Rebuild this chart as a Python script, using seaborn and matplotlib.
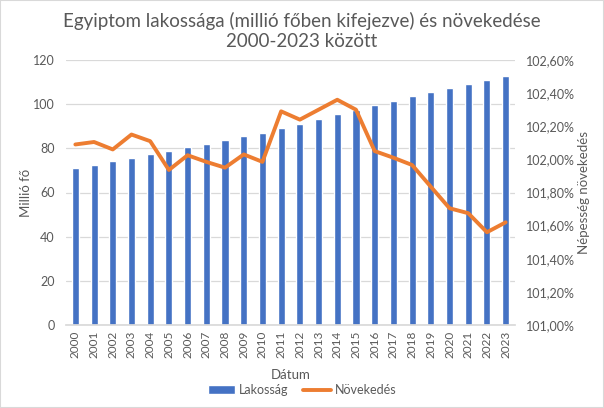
import matplotlib
matplotlib.use("Agg")
import matplotlib.pyplot as plt
import matplotlib.ticker as mticker
from matplotlib.patches import Patch
from matplotlib.lines import Line2D
import seaborn as sns
import pandas as pd

years = [str(y) for y in range(2000, 2024)]
lakossag = [71.1, 72.5, 74.3, 75.6, 77.4, 78.8, 80.6, 82.0, 83.8, 85.6, 87.0, 89.2,
            91.0, 93.3, 95.6, 97.4, 99.6, 101.4, 103.7, 105.5, 107.3, 109.1, 111.0, 112.8]
novekedes = [102.09, 102.105, 102.06, 102.15, 102.11, 101.936, 102.025, 101.985, 101.95,
             102.03, 101.985, 102.29, 102.24, 102.30, 102.36, 102.30, 102.05, 102.01,
             101.966, 101.835, 101.705, 101.675, 101.56, 101.62]

title = "Egyiptom lakossága (millió főben kifejezve) és növekedése\n2000-2023 között"

sns.set_theme(style="white")
plt.rcParams['font.family'] = ['Lato', 'DejaVu Sans']

df = pd.DataFrame({"Dátum": years, "Lakosság": lakossag, "Növekedés": novekedes})
df["pos"] = range(len(df))

blue = "#4472C4"
orange = "#ED7D31"
gray = "#595959"

fig = plt.figure(figsize=(6.04, 4.08), dpi=100)
ax = fig.add_axes([66/604, 1-325/408, (515-66)/604, (325-60)/408])

sns.barplot(data=df, x="Dátum", y="Lakosság", color=blue, width=0.38, ax=ax, saturation=1)
ax.set_ylim(0, 120)
ax.set_yticks(range(0, 121, 20))
ax.yaxis.grid(True, color="#D9D9D9", linewidth=0.9)
ax.set_axisbelow(True)
for s in ["top", "right", "left"]:
    ax.spines[s].set_visible(False)
ax.spines["bottom"].set_color("#D9D9D9")
ax.tick_params(axis="x", labelrotation=90, labelsize=8.5, colors=gray, length=0, pad=4)
ax.tick_params(axis="y", labelsize=9, colors=gray, length=0, pad=8)
ax.set_xlabel("Dátum", fontsize=9.5, color=gray, labelpad=8)
ax.set_ylabel("Millió fő", fontsize=9.5, color=gray, labelpad=1)
ax.set_xlim(-0.5, len(years) - 0.5)

ax2 = ax.twinx()
sns.lineplot(data=df, x="pos", y="Növekedés", color=orange, linewidth=2.8, ax=ax2)
ax2.set_ylim(101.0, 102.6)
ax2.set_yticks([101.0 + 0.2 * i for i in range(9)])
ax2.yaxis.set_major_formatter(mticker.FuncFormatter(lambda v, p: f"{v:.2f}%".replace(".", ",")))
for s in ["top", "right", "left", "bottom"]:
    ax2.spines[s].set_visible(False)
ax2.tick_params(axis="y", labelsize=9, colors=gray, length=0, pad=8)
ax2.set_ylabel("Népesség növekedés", fontsize=9.5, color=gray, labelpad=2)
ax2.set_xlim(-0.5, len(years) - 0.5)
ax2.set_xlabel("")

fig.text(0.5, 1-31/408, title, ha="center", va="center", fontsize=13.5, color=gray, linespacing=1.25)

handles = [Patch(facecolor=blue, label="Lakosság"),
           Line2D([0], [0], color=orange, linewidth=2.8, label="Növekedés")]
fig.legend(handles=handles, loc="center", bbox_to_anchor=(0.5, 1-390/408), ncol=2,
           frameon=False, fontsize=9, labelcolor=gray, handlelength=2.2, columnspacing=1.2,
           handletextpad=0.3)

fig.patches.append(matplotlib.patches.Rectangle((0, 0), 1, 1, transform=fig.transFigure,
                                                 fill=False, edgecolor="#D9D9D9", linewidth=1.5))
fig.savefig("out.png", dpi=100)
